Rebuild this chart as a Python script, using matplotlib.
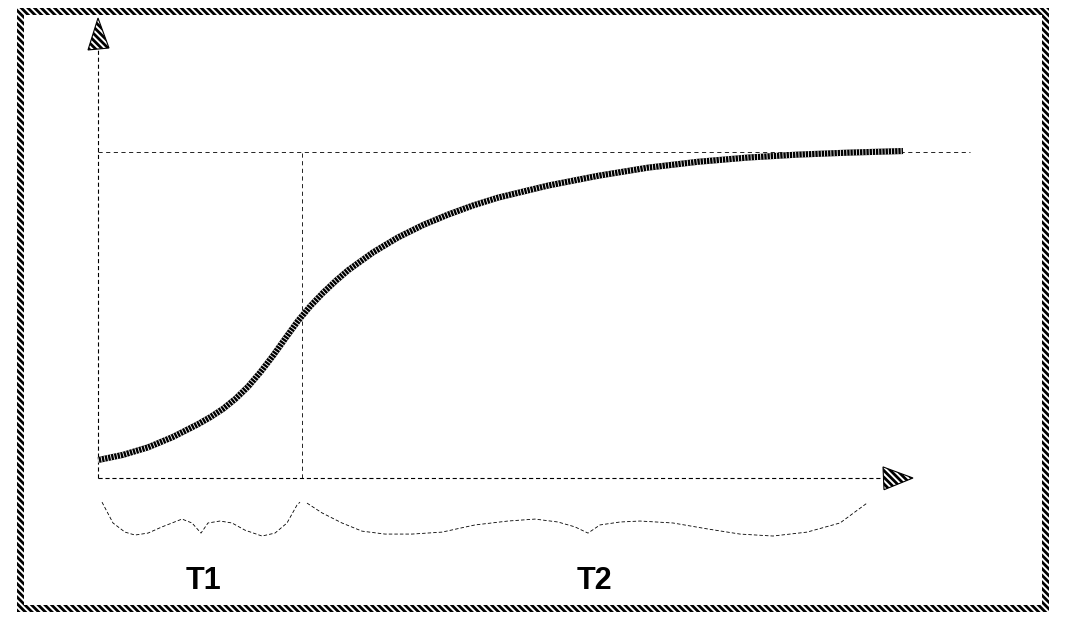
import matplotlib
matplotlib.use("Agg")
import matplotlib.pyplot as plt
from matplotlib.patches import Rectangle, Polygon

# growth curve (time in arbitrary units, level relative to saturation)
curve_x = [0.00, 0.25, 0.50, 0.75, 1.00, 1.125, 1.25, 1.375, 1.50, 1.625, 1.75, 1.875,
           2.00, 2.125, 2.25, 2.375, 2.50, 2.75, 3.00, 3.25, 3.50, 3.75, 4.00, 4.50,
           5.00, 5.50, 6.00, 6.50, 7.00, 7.50, 8.05]
curve_y = [0.055, 0.071, 0.094, 0.126, 0.165, 0.187, 0.212, 0.243, 0.280, 0.325, 0.375,
           0.429, 0.482, 0.528, 0.568, 0.604, 0.637, 0.692, 0.738, 0.776, 0.808, 0.836,
           0.860, 0.897, 0.927, 0.952, 0.970, 0.983, 0.992, 0.998, 1.003]
saturation = 1.0
t_split = 2.04          # boundary between phase T1 and T2
x_end, y_end = 7.86, 1.313
asym_end = 8.72

# curly braces under the time axis
t1_x = [0.04, 0.15, 0.27, 0.37, 0.50, 0.64, 0.84, 0.94, 1.03, 1.10, 1.22, 1.34,
        1.47, 1.64, 1.77, 1.89, 1.99, 2.02]
t1_y = [-0.074, -0.138, -0.166, -0.175, -0.169, -0.150, -0.126, -0.138, -0.169,
        -0.138, -0.132, -0.138, -0.160, -0.178, -0.169, -0.138, -0.083, -0.074]
t2_x = [2.09, 2.24, 2.44, 2.64, 2.87, 3.14, 3.44, 3.77, 4.10, 4.37, 4.60, 4.77,
        4.90, 5.02, 5.22, 5.42, 5.75, 6.09, 6.42, 6.75, 7.09, 7.42, 7.69]
t2_y = [-0.077, -0.107, -0.138, -0.163, -0.172, -0.172, -0.166, -0.144, -0.132,
        -0.126, -0.135, -0.150, -0.169, -0.144, -0.135, -0.132, -0.138, -0.156,
        -0.172, -0.178, -0.166, -0.138, -0.077]
labels = ["T1", "T2"]
label_x = [1.06, 4.96]
label_y = -0.315

plt.rcParams["hatch.linewidth"] = 2.0
plt.rcParams["lines.scale_dashes"] = False
HATCH = "\\" * 5

W, H = 1069, 633
fig = plt.figure(figsize=(W / 100, H / 100), dpi=100)
ax = fig.add_axes([0, 0, 1, 1])
ax.set_xlim(-0.98, (W - 98) / 100)
ax.set_ylim(-(H - 478) / 326, 478 / 326)
ax.axis("off")


# hatched frame around the drawing
def px(x0, y0, w, h):
    return Rectangle((x0 / W, 1 - (y0 + h) / H), w / W, h / H, transform=fig.transFigure,
                     facecolor="white", edgecolor="black", lw=0, hatch=HATCH)


for r in [px(17, 8, 1032, 7), px(17, 605, 1032, 7), px(17, 8, 7, 604), px(1042, 8, 7, 604)]:
    fig.patches.append(r)

# axes (dashed) with hatched arrowheads
ax.plot([0, 0], [0, y_end], color="black", lw=0.8, ls=(0, (3, 2)))
ax.plot([0, x_end], [0, 0], color="black", lw=0.8, ls=(0, (3, 2)))
ax.add_patch(Polygon([(-0.10, y_end), (0.11, y_end + 0.006), (0, y_end + 0.098)],
                     closed=True, facecolor="white", edgecolor="black", lw=0.8, hatch=HATCH))
ax.add_patch(Polygon([(x_end - 0.01, 0.034), (x_end, -0.036), (x_end + 0.29, 0.0)],
                     closed=True, facecolor="white", edgecolor="black", lw=0.8, hatch=HATCH))

# guide lines
ax.plot([0, asym_end], [saturation, saturation], color="black", lw=0.6, ls=(0, (3, 2.5)))
ax.plot([t_split, t_split], [0, saturation], color="black", lw=0.6, ls=(0, (3, 2.5)))

# thick hatched curve: black stroke broken by short white dashes
ax.plot(curve_x, curve_y, color="black", lw=4.4, solid_capstyle="butt", solid_joinstyle="round")
ax.plot(curve_x, curve_y, color="white", lw=4.4, ls=(0, (0.6, 1.7)), dash_capstyle="butt")

# braces and labels
ax.plot(t1_x, t1_y, color="black", lw=0.6, ls=(0, (2.5, 1.5)))
ax.plot(t2_x, t2_y, color="black", lw=0.6, ls=(0, (2.5, 1.5)))
for lab, lx in zip(labels, label_x):
    ax.text(lx, label_y, lab, ha="center", va="center", fontsize=22, fontweight="bold",
            family=["Liberation Sans Narrow", "Liberation Sans"])

fig.savefig("out.png", dpi=100)
